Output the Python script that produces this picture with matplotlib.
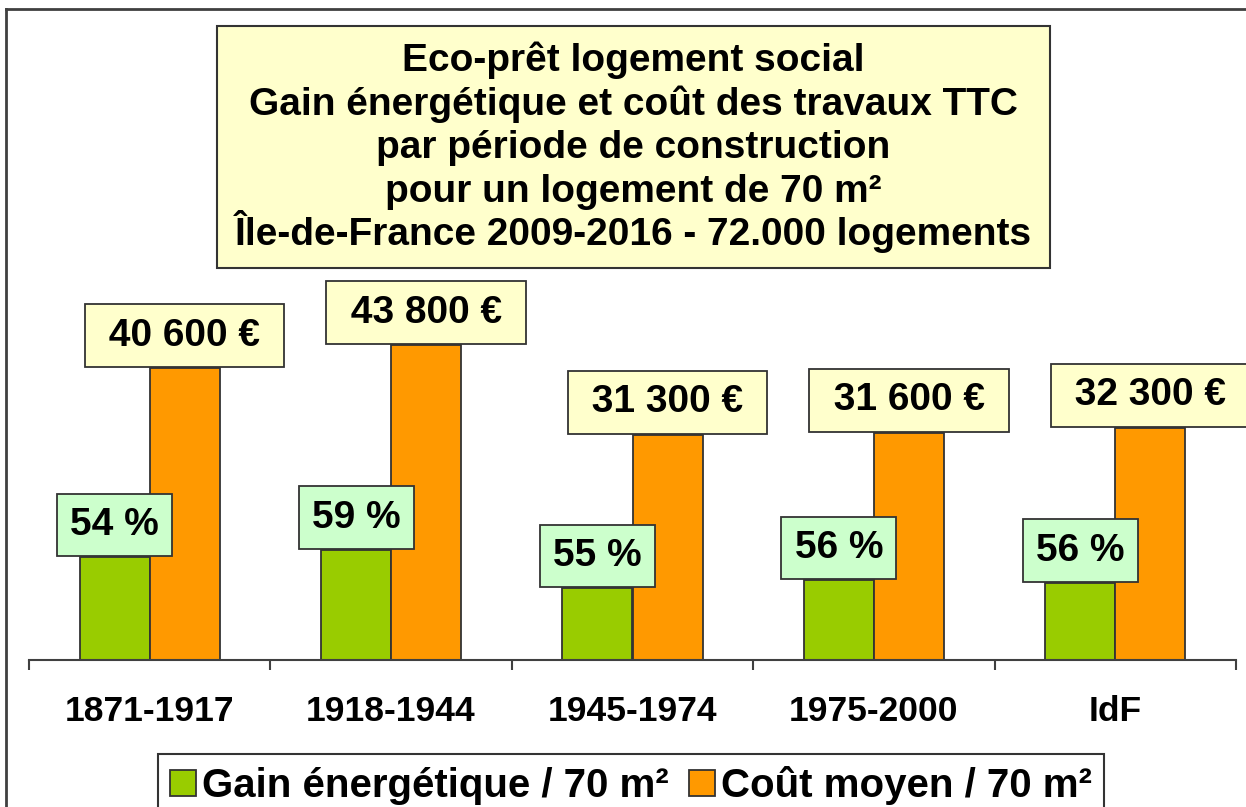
import matplotlib
matplotlib.use("Agg")
import matplotlib.pyplot as plt
from matplotlib.patches import Rectangle, Patch
from matplotlib.lines import Line2D

# Données
periodes = ["1871-1917", "1918-1944", "1945-1974", "1975-2000", "IdF"]
gain_pct = [54, 59, 55, 56, 56]
# hauteur des barres vertes (échelle relative, même axe que le coût)
gain_hauteur = [14300, 15300, 10000, 11100, 10700]
cout_moyen = [40600, 43800, 31300, 31600, 32300]

titre = ["Eco-prêt logement social",
         "Gain énergétique et coût des travaux TTC",
         "par période de construction",
         "pour un logement de 70 m²",
         "Île-de-France 2009-2016 - 72.000 logements"]

VERT = "#99CC00"
ORANGE = "#FF9900"
BORD = "#333333"

plt.rcParams['font.family'] = ['Liberation Sans', 'DejaVu Sans']
plt.rcParams['font.weight'] = 'bold'

W, H = 1246, 807
fig = plt.figure(figsize=(W / 100, H / 100), dpi=100)
ax = fig.add_axes([29 / W, (H - 660) / H, (1236 - 29) / W, 660 / H])

x = list(range(len(periodes)))
w = 0.29
xg = [i - w / 2 for i in x]
xo = [i + w / 2 for i in x]
ax.bar(xg, gain_hauteur, width=w, color=VERT, edgecolor=BORD, linewidth=1.3, zorder=2)
ax.bar(xo, cout_moyen, width=w, color=ORANGE, edgecolor=BORD, linewidth=1.3, zorder=2)

fs_lab = 28
pad = 0.34
for i in x:
    ax.annotate(f"{gain_pct[i]} %", xy=(xg[i], gain_hauteur[i]),
                xytext=(0, pad * fs_lab + 0.8), textcoords='offset points',
                ha='center', va='bottom', fontsize=fs_lab, fontweight='bold', zorder=3,
                bbox=dict(boxstyle=f'square,pad={pad}', fc='#CCFFCC', ec=BORD, lw=1.3))
    txt = f"{cout_moyen[i]:,}".replace(",", " ")
    ax.annotate(f" {txt} € ", xy=(xo[i], cout_moyen[i]),
                xytext=(0, pad * fs_lab + 0.8), textcoords='offset points',
                ha='center', va='bottom', fontsize=fs_lab, fontweight='bold', zorder=3,
                bbox=dict(boxstyle=f'square,pad={pad}', fc='#FFFFCC', ec=BORD, lw=1.3))

ax.set_xlim(-0.5, len(periodes) - 0.5)
ax.set_ylim(0, 660 * 139)
ax.set_xticks([i - 0.5 for i in range(len(periodes) + 1)])
ax.set_xticklabels([])
ax.set_xticks(x, minor=True)
ax.set_xticklabels(periodes, minor=True, fontsize=25.5, fontweight='bold')
ax.tick_params(axis='x', which='major', length=7.5, width=1.5, color='#404040', direction='out')
ax.tick_params(axis='x', which='minor', length=0, pad=25)
ax.set_yticks([])
for s in ['top', 'left', 'right']:
    ax.spines[s].set_visible(False)
ax.spines['bottom'].set_color('#404040')
ax.spines['bottom'].set_linewidth(1.5)
ax.patch.set_alpha(0)

# cadre extérieur (coupé à droite et en bas)
fig.add_artist(Line2D([6 / W, 6 / W], [-0.1, 1 - 9 / H], color='#404040', lw=2))
fig.add_artist(Line2D([6 / W, 1.1], [1 - 9 / H, 1 - 9 / H], color='#404040', lw=2))

# encadré du titre
fig.add_artist(Rectangle((217 / W, 1 - 268 / H), (1050 - 217) / W, (268 - 26) / H,
                         transform=fig.transFigure, fc='#FFFFCC', ec=BORD, lw=1.5))
lignes_base = [71, 115, 158, 202, 245]
for ligne, yb in zip(titre, lignes_base):
    fig.text(633 / W, 1 - yb / H, ligne, ha='center', va='baseline', fontsize=28,
             fontweight='bold')

handles = [Patch(fc=VERT, ec=BORD, lw=1.3, label="Gain énergétique / 70 m²"),
           Patch(fc=ORANGE, ec=BORD, lw=1.3, label="Coût moyen / 70 m²")]
leg = fig.legend(handles=handles, loc='upper center', bbox_to_anchor=(631 / W, 1 - 754 / H),
                 ncol=2, fontsize=29, frameon=True, fancybox=False, framealpha=1,
                 edgecolor=BORD, handlelength=0.65, handleheight=0.6, handletextpad=0.15,
                 columnspacing=0.5, borderpad=0.3, borderaxespad=0)
leg.get_frame().set_linewidth(1.5)

fig.savefig("out.png", dpi=100)
